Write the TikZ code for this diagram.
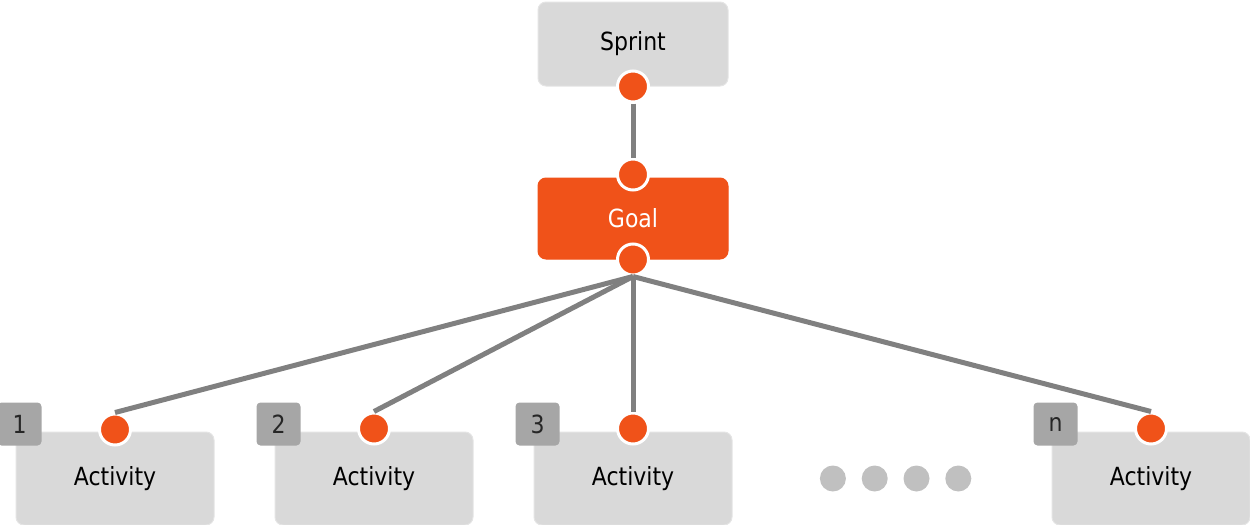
\documentclass[tikz,border=0pt]{standalone}
\usepackage{fontspec}
\setmainfont{DejaVu Sans}[FakeStretch=0.88]
\usetikzlibrary{positioning}
\definecolor{boxgray}{HTML}{D9D9D9}
\definecolor{taggray}{HTML}{A6A6A6}
\definecolor{goalorange}{HTML}{F05219}
\definecolor{linegray}{HTML}{808080}
\definecolor{moregray}{HTML}{C0C0C0}

\begin{document}
\begin{tikzpicture}[x=0.5pt, y=-0.5pt, font=\fontsize{12.5}{15}\selectfont,
  card/.style={rectangle, rounded corners=4pt, fill=boxgray, draw=boxgray!70!white,
    line width=0.5pt, minimum width=95pt, minimum height=42pt, inner sep=0pt},
  actcard/.style={card, minimum width=99pt, minimum height=46.5pt},
  tag/.style={rectangle, rounded corners=2pt, fill=taggray, minimum width=22pt,
    minimum height=21.5pt, inner sep=0pt, text=black!85},
  dot/.style={circle, fill=goalorange, draw=white, line width=1.5pt,
    minimum size=15.5pt, inner sep=0pt},
  more/.style={circle, fill=moregray, minimum size=13pt, inner sep=0pt},
  link/.style={draw=linegray, line width=2.5pt}]

\useasboundingbox (0,0) rectangle (1250,525);

\node[card] (sprint) at (633,44) {Sprint};
\node[card, fill=goalorange, draw=goalorange, text=white, minimum height=40.5pt] (goal) [below=45.5pt of sprint] {Goal};
\node[actcard] (act3) [below=86pt of goal] {Activity};
\node[actcard] (act2) [left=30pt of act3] {Activity};
\node[actcard] (act1) [left=30pt of act2] {Activity};
\node[actcard] (actn) [right=159.5pt of act3] {Activity};

\node[tag] (tag1) at ([xshift=2pt, yshift=3.75pt]act1.north west) {1};
\node[tag] (tag2) at ([xshift=2pt, yshift=3.75pt]act2.north west) {2};
\node[tag] (tag3) at ([xshift=2pt, yshift=3.75pt]act3.north west) {3};
\node[tag] (tagn) at ([xshift=2pt, yshift=3.75pt]actn.north west) {n};

\node[more] (more1) [right=43.5pt of act3] {};
\node[more] (more2) [right=7.5pt of more1] {};
\node[more] (more3) [right=7.5pt of more2] {};
\node[more] (more4) [right=7.5pt of more3] {};

\node[dot] (sprint_out) at (sprint.south) {};
\node[dot] (goal_in) at ([yshift=1.5pt]goal.north) {};
\node[dot] (goal_out) at (goal.south) {};
\node[dot] (act1_in) at ([yshift=1pt]act1.north) {};
\node[dot] (act2_in) at ([yshift=1.5pt]act2.north) {};
\node[dot] (act3_in) at ([yshift=1.5pt]act3.north) {};
\node[dot] (actn_in) at ([yshift=1.5pt]actn.north) {};

\path[link] (sprint_out) -- (goal_in);
\path[link] (goal_out.south) -- (act1_in.north);
\path[link] (goal_out.south) -- (act2_in.north);
\path[link] (goal_out.south) -- (act3_in.north);
\path[link] (goal_out.south) -- (actn_in.north);

\end{tikzpicture}
\end{document}
